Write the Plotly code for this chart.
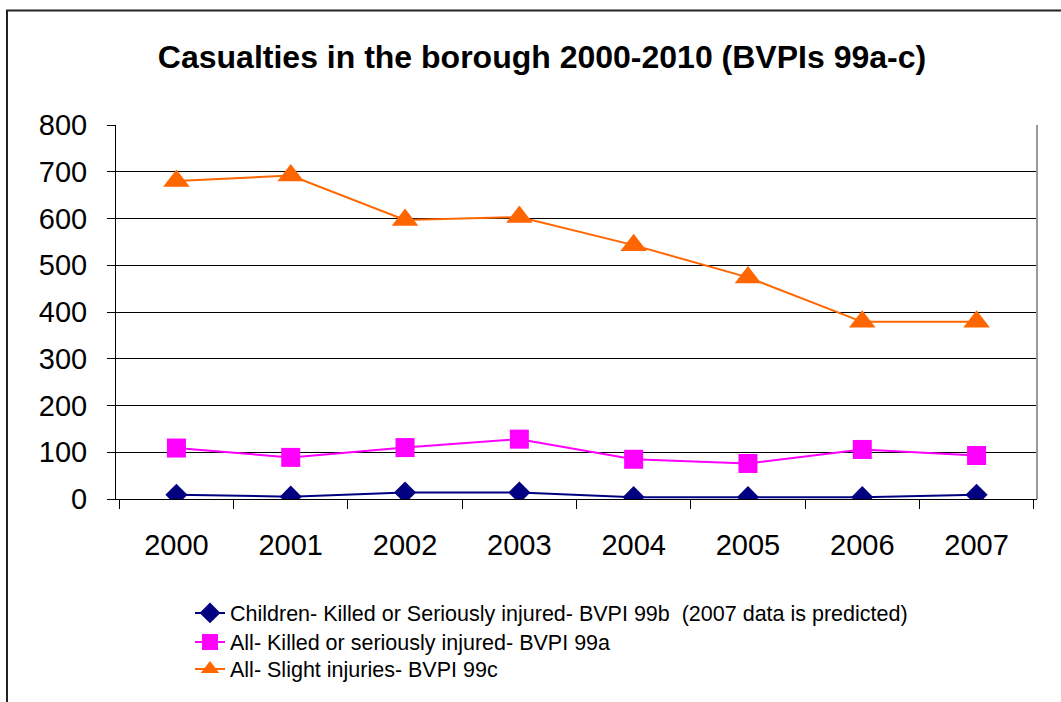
import plotly.graph_objects as go

years = ["2000", "2001", "2002", "2003", "2004", "2005", "2006", "2007"]
children_ksi = [9, 5, 14, 14, 4, 4, 4, 9]
all_ksi = [109, 89, 110, 128, 85, 76, 106, 93]
all_slight = [680, 692, 597, 603, 543, 474, 379, 379]

series_names = [
    "Children- Killed or Seriously injured- BVPI 99b  (2007 data is predicted)",
    "All- Killed or seriously injured- BVPI 99a",
    "All- Slight injuries- BVPI 99c",
]
y_ticks = [0, 100, 200, 300, 400, 500, 600, 700, 800]

W, H = 1061, 702
L, R, T, B = 116, 24, 125, 203
pw, ph = W - L - R, H - T - B

fig = go.Figure()
fig.add_trace(go.Scatter(
    x=years, y=children_ksi, name=series_names[0], mode="lines+markers",
    line=dict(color="#000080", width=2),
    marker=dict(symbol="diamond", size=17, color="#000080"),
    legend="legend",
))
fig.add_trace(go.Scatter(
    x=years, y=all_ksi, name=series_names[1], mode="lines+markers",
    line=dict(color="#FF00FF", width=2),
    marker=dict(symbol="square", size=19, color="#FF00FF"),
    legend="legend2",
))
fig.add_trace(go.Scatter(
    x=years, y=all_slight, name=series_names[2], mode="lines+markers",
    line=dict(color="#FF6600", width=2),
    marker=dict(symbol="triangle-up", size=23, color="#FF6600"),
    legend="legend3",
))

# outer chart frame (left and top edges visible)
fig.add_shape(
    type="rect", xref="paper", yref="paper",
    x0=(7 - L) / pw, x1=(W + 5 - L) / pw,
    y0=(H - B - (H + 5)) / ph, y1=(H - B - 10.5) / ph,
    line=dict(color="#222222", width=2), fillcolor="rgba(0,0,0,0)", layer="below",
)


def legend_row(center_px):
    return dict(
        x=(190 - L) / pw, xanchor="left",
        y=(H - B - center_px) / ph, yanchor="middle",
        font=dict(size=21.5, color="black"),
        bgcolor="rgba(0,0,0,0)",
    )


fig.update_layout(
    width=W, height=H,
    margin=dict(l=L, r=R, t=T, b=B, autoexpand=False),
    paper_bgcolor="white", plot_bgcolor="white",
    font=dict(family="Liberation Sans, Arial, sans-serif", color="black"),
    title=dict(
        text="<b>Casualties in the borough 2000-2010 (BVPIs 99a-c)</b>",
        xref="container", x=542 / W, xanchor="center",
        yref="container", y=1 - 57 / H, yanchor="middle",
        font=dict(size=32, color="black"),
    ),
    showlegend=True,
    legend=legend_row(613),
    legend2=legend_row(642),
    legend3=legend_row(669),
    xaxis=dict(
        type="category", showgrid=False,
        showline=True, linecolor="black", linewidth=1,
        ticks="outside", tickson="boundaries", ticklen=9, tickcolor="black",
        tickfont=dict(size=29), ticklabelstandoff=20,
        mirror=False, zeroline=False,
    ),
    yaxis=dict(
        range=[0, 800], tickvals=y_ticks,
        showgrid=True, gridcolor="black", gridwidth=1,
        showline=True, linecolor="black", linewidth=1,
        ticks="outside", ticklen=8, tickcolor="black",
        tickfont=dict(size=29), ticklabelstandoff=14,
        zeroline=False,
    ),
)

# light grey plot-area border on the right
fig.add_shape(type="line", xref="paper", yref="paper", x0=1, x1=1, y0=0, y1=1,
              line=dict(color="#999999", width=2))

fig.write_html("out.html")
